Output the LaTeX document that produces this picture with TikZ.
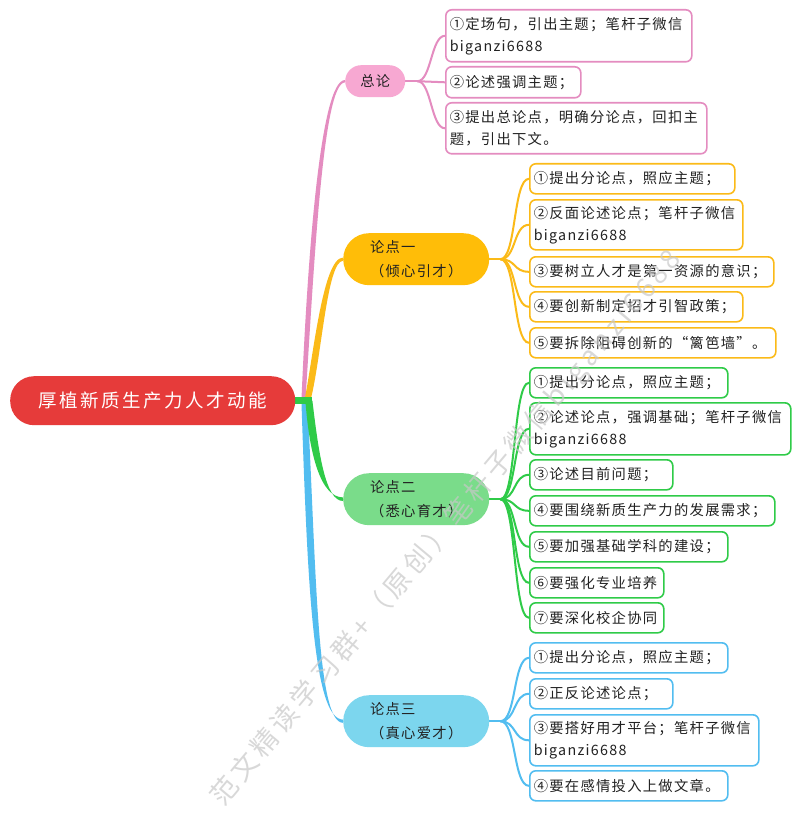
\documentclass[tikz,border=0pt]{standalone}
\usepackage{fontspec}
\setmainfont{Noto Sans CJK SC}
\newfontfamily\cjk[LetterSpace=9]{Noto Sans CJK SC}
\newfontfamily\cjkroot[LetterSpace=14]{Noto Sans CJK SC}
\newfontfamily\cjkwm[LetterSpace=16]{Noto Sans CJK SC}
\usetikzlibrary{calc}
\definecolor{rootred}{HTML}{E63B3A}
\definecolor{pinkF}{HTML}{F7A8D2}
\definecolor{pinkL}{HTML}{E48CC0}
\definecolor{yelF}{HTML}{FFBD08}
\definecolor{yelL}{HTML}{FBBA18}
\definecolor{grnF}{HTML}{7ADC8A}
\definecolor{grnL}{HTML}{2FCB48}
\definecolor{bluF}{HTML}{7CD6EE}
\definecolor{bluL}{HTML}{52BDF0}
\definecolor{txt}{HTML}{222222}
\definecolor{wmgray}{HTML}{C8C8C8}
\pgfdeclarelayer{bg}
\pgfsetlayers{bg,main}
\begin{document}
\begin{tikzpicture}[x=1pt,y=-1pt,
  leaf/.style={draw, fill=white, rounded corners=6pt, line width=1.6pt,
    inner xsep=4pt, inner ysep=0pt, align=left, anchor=north west,
    font=\cjk\fontsize{14.3}{22}\selectfont, text=txt},
  topic/.style={anchor=north west, inner sep=0pt, align=left,
    minimum width=146pt, minimum height=52pt, rounded corners=26pt,
    font=\cjk\fontsize{14.3}{24}\selectfont, text=txt},
  link/.style={line width=2pt, line cap=round},
]
\useasboundingbox (0,0) rectangle (800,813);

% root and topics
\node[anchor=north west, fill=rootred, minimum width=285pt, minimum height=49pt,
  rounded corners=24pt, inner sep=0pt, text=white,
  font=\cjkroot\fontsize{18.5}{20}\selectfont] (root) at (10,376) {厚植新质生产力人才动能};
\node[topic, fill=pinkF, minimum width=60pt, minimum height=32pt, rounded corners=16pt,
  align=center] (zl) at (345,65) {总论};
\node[topic, fill=yelF] (n1) at (343,233) {论点一\\（倾心引才）};
\node[topic, fill=grnF] (n2) at (343,473) {论点二\\（悉心育才）};
\node[topic, fill=bluF] (n3) at (343,695) {论点三\\（真心爱才）};

% leaves of 总论
\node[leaf, draw=pinkL, text width=238pt, minimum height=52pt] (z1) at (445,9) {①定场句，引出主题；笔杆子微信\\biganzi6688};
\node[leaf, draw=pinkL, text width=127pt, minimum height=31pt] (z2) at (445,66) {②论述强调主题；};
\node[leaf, draw=pinkL, text width=253pt, minimum height=51pt] (z3) at (445,102) {③提出总论点，明确分论点，回扣主\\题，引出下文。};

% leaves of 论点一
\node[leaf, draw=yelL, text width=197pt, minimum height=30pt] (a1) at (529,163) {①提出分论点，照应主题；};
\node[leaf, draw=yelL, text width=205pt, minimum height=50pt] (a2) at (529,199) {②反面论述论点；笔杆子微信\\biganzi6688};
\node[leaf, draw=yelL, text width=236pt, minimum height=30pt] (a3) at (529,256) {③要树立人才是第一资源的意识；};
\node[leaf, draw=yelL, text width=205pt, minimum height=30pt] (a4) at (529,291) {④要创新制定招才引智政策；};
\node[leaf, draw=yelL, text width=238pt, minimum height=30pt] (a5) at (529,327) {⑤要拆除阻碍创新的“篱笆墙”。};

% leaves of 论点二
\node[leaf, draw=grnL, text width=190pt, minimum height=30pt] (b1) at (529,367) {①提出分论点，照应主题；};
\node[leaf, draw=grnL, text width=253pt, minimum height=52pt] (b2) at (529,402) {②论述论点，强调基础；笔杆子微信\\biganzi6688};
\node[leaf, draw=grnL, text width=135pt, minimum height=30pt] (b3) at (529,459) {③论述目前问题；};
\node[leaf, draw=grnL, text width=237pt, minimum height=30pt] (b4) at (529,495) {④要围绕新质生产力的发展需求；};
\node[leaf, draw=grnL, text width=190pt, minimum height=30pt] (b5) at (529,531) {⑤要加强基础学科的建设；};
\node[leaf, draw=grnL, text width=126pt, minimum height=30pt] (b6) at (529,567) {⑥要强化专业培养};
\node[leaf, draw=grnL, text width=126pt, minimum height=30pt] (b7) at (529,602) {⑦要深化校企协同};

% leaves of 论点三
\node[leaf, draw=bluL, text width=190pt, minimum height=30pt] (c1) at (529,642) {①提出分论点，照应主题；};
\node[leaf, draw=bluL, text width=135pt, minimum height=30pt] (c2) at (529,678) {②正反论述论点；};
\node[leaf, draw=bluL, text width=221pt, minimum height=51pt] (c3) at (529,714) {③要搭好用才平台；笔杆子微信\\biganzi6688};
\node[leaf, draw=bluL, text width=190pt, minimum height=30pt] (c4) at (529,770) {④要在感情投入上做文章。};

% junction points
\coordinate (J) at ([xshift=11pt]root.east);
\coordinate (jz) at ([xshift=12pt]zl.east);
\coordinate (j1) at ([xshift=11pt]n1.east);
\coordinate (j2) at ([xshift=11pt]n2.east);
\coordinate (j3) at ([xshift=11pt]n3.east);

\begin{pgfonlayer}{bg}
\fill[white] (0,0) rectangle (800,813);
% main branches (tapered)
\fill[pinkL] ([xshift=-5pt]J) .. controls +(6,-140) and +(-25,0) .. ([yshift=1.2pt]zl.west)
  -- ([yshift=-1.2pt]zl.west) .. controls +(-22,0) and +(9,-140) .. ([xshift=-1pt]J) -- cycle;
\fill[yelL] ([xshift=-2pt]J) .. controls +(9,-45) and +(-20,0) .. ([yshift=1.6pt]n1.west)
  -- ([yshift=-1.6pt]n1.west) .. controls +(-16,0) and +(11,-42) .. ([xshift=4pt]J) -- cycle;
\fill[bluL] ([xshift=-5pt]J) .. controls +(6,180) and +(-30,0) .. ([yshift=1.6pt]n3.west)
  -- ([yshift=-1.6pt]n3.west) .. controls +(-26,0) and +(9,175) .. ([xshift=1pt]J) -- cycle;
\fill[grnL] ([xshift=-1pt]J) .. controls +(4,55) and +(-22,0) .. ([yshift=1.8pt]n2.west)
  -- ([yshift=-1.8pt]n2.west) .. controls +(-18,0) and +(6,50) .. ([xshift=6pt]J) -- cycle;
\draw[grnL, line width=7pt] ([xshift=-3pt]root.east) -- ([xshift=6pt]J);

% leaf connectors
\draw[link, pinkL] (zl.east) -- (jz);
\foreach \t in {z1,z2,z3} \draw[link, pinkL] (jz) .. controls +(14,0) and +(-14,0) .. (\t.west);
\draw[link, yelL] (n1.east) -- (j1);
\foreach \t in {a1,a2,a3,a4,a5} \draw[link, yelL] (j1) .. controls +(16,0) and +(-16,0) .. (\t.west);
\draw[link, grnL] (n2.east) -- (j2);
\foreach \t in {b1,b2,b3,b4,b5,b6,b7} \draw[link, grnL] (j2) .. controls +(16,0) and +(-16,0) .. (\t.west);
\draw[link, bluL] (n3.east) -- (j3);
\foreach \t in {c1,c2,c3,c4} \draw[link, bluL] (j3) .. controls +(16,0) and +(-16,0) .. (\t.west);
\end{pgfonlayer}

% watermark
\node[rotate=50, anchor=west, inner sep=0pt, text=wmgray, opacity=0.7,
  font=\cjkwm\fontsize{27}{27}\selectfont] (wm) at (217,802) {范文精读学习群+（原创）笔杆子微信biganzi6688};
\end{tikzpicture}
\end{document}
